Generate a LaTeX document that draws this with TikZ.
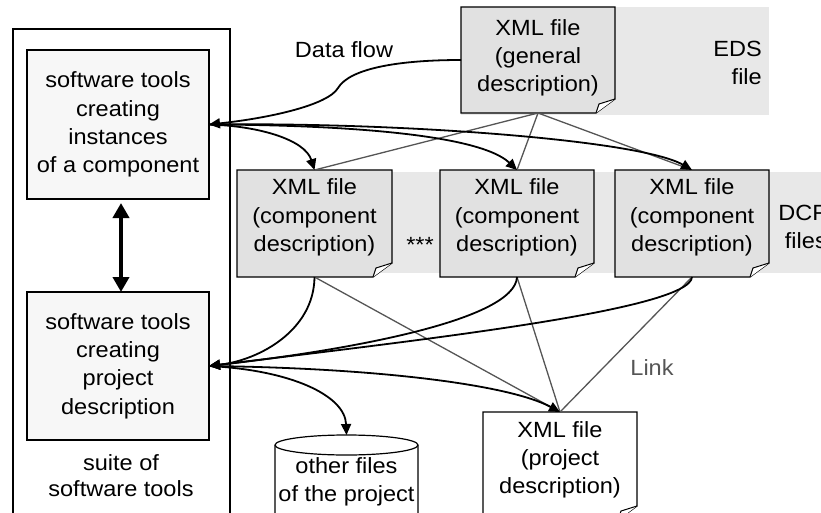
\documentclass[tikz,border=0pt]{standalone}
\usepackage{fontspec}
\setmainfont[FakeStretch=1.07]{Liberation Sans}
\usetikzlibrary{arrows.meta}

\definecolor{bandgray}{HTML}{E8E8E8}
\definecolor{docgray}{HTML}{E1E1E1}
\definecolor{toolgray}{HTML}{F7F7F7}
\definecolor{linkgray}{HTML}{555555}

\tikzset{
  txt/.style={font=\fontsize{22}{28.3}\selectfont, align=center, inner sep=0pt},
  frame/.style={draw=black, line width=1.2pt},
  toolbox/.style={frame, fill=toolgray, inner sep=0pt, outer sep=0pt,
                  minimum width=182pt},
  docarea/.style={inner sep=0pt, outer sep=0pt, minimum width=154pt},
  flow/.style={draw=black, line width=1.8pt, -{Triangle[length=11pt,width=10pt]}},
  link/.style={draw=linkgray, line width=1.3pt},
  bigarrow/.style={line width=4.5pt,
    {Triangle[length=15pt,width=16pt]}-{Triangle[length=15pt,width=16pt]}},
}

% document sheet with a turned-down lower right corner
\newcommand\docoutline[2]{%
  \draw[frame, fill=#2] (#1.north west) -- (#1.north east)
     -- ([yshift=14pt]#1.south east) -- ([xshift=-19pt]#1.south east)
     -- (#1.south west) -- cycle;
  \draw[draw=black, line width=1pt, fill=white, line join=round]
     ([yshift=14pt]#1.south east) -- ([xshift=-16pt,yshift=9pt]#1.south east)
     -- ([xshift=-19pt]#1.south east);
}

\begin{document}
\begin{tikzpicture}[x=1pt, y=-1pt]
\useasboundingbox (0,0) rectangle (821,513);
\clip (0,0) rectangle (821,513);

% shaded groups of files
\fill[bandgray] (461,7) rectangle (769,115);
\fill[bandgray] (237,172) rectangle (830,273);

% suite of software tools
\draw[frame] (13,29) rectangle (230,545);
\node[toolbox, minimum height=149pt, txt] (toolA) at (118,124.5)
  {software tools\\creating\\instances\\of a component};
\node[toolbox, minimum height=148pt, txt] (toolB) at (118,366)
  {software tools\\creating\\project\\description};
\node[txt, font=\fontsize{22}{26}\selectfont] (suitelabel) at (121,476)
  {suite of\\software tools};
\draw[bigarrow] ([xshift=3pt,yshift=-4pt]toolA.south) -- ([xshift=3pt]toolB.north);

% file areas
\node[docarea, minimum height=106pt] (eds) at (538,60) {};
\node[docarea, minimum width=155pt, minimum height=107pt] (b1) at (314.5,223.5) {};
\node[docarea, minimum height=107pt] (b2) at (517,223.5) {};
\node[docarea, minimum height=107pt] (b3) at (692,223.5) {};
\node[docarea, minimum height=108pt] (proj) at (560,466) {};
\node[inner sep=0pt, outer sep=0pt, minimum width=143pt, minimum height=110pt]
  (cyl) at (346.5,490) {};

\docoutline{eds}{docgray}
\docoutline{b1}{docgray}
\docoutline{b2}{docgray}
\docoutline{b3}{docgray}
\docoutline{proj}{white}

% cylinder for the other project files
\draw[frame, fill=white] ([yshift=-10pt]cyl.north west) -- (cyl.south west)
  -- (cyl.south east) -- ([yshift=-10pt]cyl.north east)
  arc[start angle=0, end angle=180, x radius=71.5pt, y radius=10pt] -- cycle;
\draw[frame] ([yshift=-10pt]cyl.north west)
  arc[start angle=180, end angle=360, x radius=71.5pt, y radius=10pt];

% links between files
\draw[link] (eds.south) -- (b1.north);
\draw[link] (eds.south) -- (b2.north);
\draw[link] (eds.south) -- (b3.north);
\draw[link] (b1.south) -- (proj.north);
\draw[link] (b2.south) -- (proj.north);
\draw[link] (b3.south) -- (proj.north);

% data flow
\draw[flow] (eds.west) .. controls (400,60) and (350,68) .. (338,88)
  .. controls (328,105) and (270,118) .. (toolA.east);
\draw[flow] (toolA.east) .. controls (260,126) and (305,140) .. (b1.north);
\draw[flow] (toolA.east) .. controls (350,125) and (480,135) .. (b2.north);
\draw[flow] (toolA.east) .. controls (400,122) and (640,140) .. (b3.north);

\draw[flow] (b1.south) .. controls (314,330) and (260,360) .. (toolB.east);
\draw[flow] (b2.south) .. controls (515,320) and (350,350) .. (toolB.east);
\draw[flow] (b3.south) .. controls (690,310) and (420,340) .. (toolB.east);
\draw[flow] (toolB.east) .. controls (290,370) and (345,395) .. (cyl.north);
\draw[flow] (toolB.east) .. controls (380,368) and (510,385) .. (proj.north);

% texts
\node[txt] (edst) at ([yshift=2pt]eds.center) {XML file\\(general\\description)};
\node[txt] (b1t) at ([yshift=6pt]b1.center) {XML file\\(component\\description)};
\node[txt] (b2t) at ([yshift=6pt]b2.center) {XML file\\(component\\description)};
\node[txt] (b3t) at ([yshift=6pt]b3.center) {XML file\\(component\\description)};
\node[txt] (projt) at ([yshift=6pt]proj.center) {XML file\\(project\\description)};
\node[txt] (cylt) at ([yshift=8pt]cyl.center) {other files\\of the project};
\node[txt, align=right, anchor=east] (edslabel) at (762,63) {EDS\\file};
\node[txt, align=right, anchor=east] (dcflabel) at (827,227) {DCF\\files};
\node[txt] (dots) at (420,245) {***};
\node[txt] (flowlabel) at (344,50) {Data flow};
\node[txt, text=linkgray] (linklabel) at (652,368) {Link};
\end{tikzpicture}
\end{document}
